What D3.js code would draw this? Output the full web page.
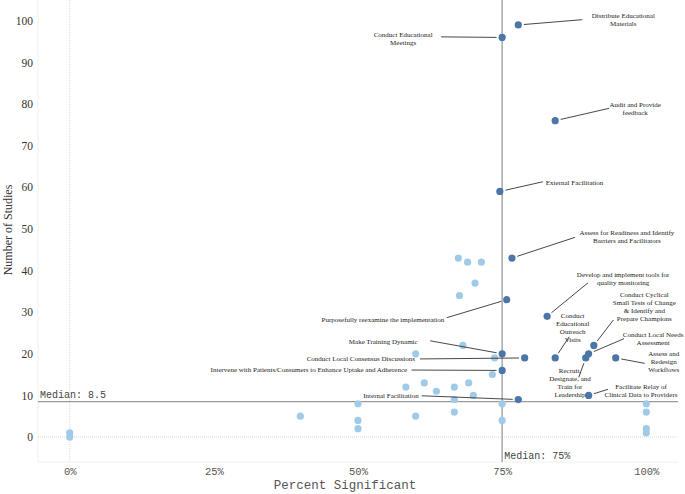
<!DOCTYPE html>
<html>
<head>
<meta charset="utf-8">
<script src="https://cdn.jsdelivr.net/npm/d3@7"></script>
<style>
  body { margin: 0; background: #fff; }
  .lbl { font-family: "Liberation Serif", "Times New Roman", serif; font-size: 7px; fill: #222; }
  .mono { font-family: "Liberation Mono", "Courier New", monospace; }
</style>
</head>
<body>
<svg id="chart" width="685" height="494"></svg>
<script>
// highlighted strategies (dark points)
var stratNames = [
  'Distribute Educational Materials',
  'Conduct Educational Meetings',
  'Audit and Provide feedback',
  'External Facilitation',
  'Assess for Readiness and Identify Barriers and Facilitators',
  'Purposefully reexamine the implementation',
  'Make Training Dynamic',
  'Conduct Local Consensus Discussions',
  'Intervene with Patients/Consumers to Enhance Uptake and Adherence',
  'Internal Facilitation',
  'Develop and implement tools for quality monitoring',
  'Conduct Educational Outreach Visits',
  'Recruit, Designate, and Train for Leadership',
  'Conduct Local Needs Assessment',
  'Conduct Cyclical Small Tests of Change & Identify and Prepare Champions',
  'Assess and Redesign Workflows',
  'Facilitate Relay of Clinical Data to Providers'
];
var stratPct   = [77.8, 75.0, 84.2, 74.6, 76.7, 75.8, 75.0, 78.9, 75.0, 77.8, 82.8, 84.2, 89.5, 90.0, 90.9, 94.7, 90.0];
var stratCount = [99, 96, 76, 59, 43, 33, 20, 19, 16, 9, 29, 19, 19, 20, 22, 19, 10];

// remaining strategies (light points)
var otherPct   = [67.4, 69.0, 71.4, 70.3, 67.6, 68.2, 60.0, 73.7, 73.3, 58.3, 61.5, 63.6, 66.7, 69.2, 70.0, 66.7,
                  75.0, 50.0, 40.0, 50.0, 50.0, 60.0, 66.7, 75.0, 100, 100, 100, 100, 0, 0];
var otherCount = [43, 42, 42, 37, 34, 22, 20, 19, 15, 12, 13, 11, 12, 13, 10, 9,
                  8, 8, 5, 4, 2, 5, 6, 4, 8, 6, 2, 1, 1, 0];

var yTicks = [0, 10, 20, 30, 40, 50, 60, 70, 80, 90, 100];
var xTicks = [0, 25, 50, 75, 100];
var medianCount = 8.5;
var medianPct = 75;

// label layout: text lines, offset of first line from the dot, anchor, leader end offset
var labelLayout = [
  { lines: ['Distribute Educational', 'Materials'], dx: 105, dy: -9.3, anchor: 'middle', lx: 64, ly: -5.3 },
  { lines: ['Conduct Educational', 'Meetings'], dx: -99, dy: -3.3, anchor: 'middle', lx: -61, ly: -0.6 },
  { lines: ['Audit and Provide', 'feedback'], dx: 80, dy: -16, anchor: 'middle', lx: 54, ly: -12.4 },
  { lines: ['External Facilitation'], dx: 46, dy: -9.4, anchor: 'start', lx: 43, ly: -9.7 },
  { lines: ['Assess for Readiness and Identify', 'Barriers and Facilitators'], dx: 115, dy: -25.7, anchor: 'middle', lx: 63, ly: -20.7 },
  { lines: ['Purposefully reexamine the implementation'], dx: -62.5, dy: 19.6, anchor: 'end', lx: -60, ly: 18 },
  { lines: ['Make Training Dynamic'], dx: -84.5, dy: -12, anchor: 'end', lx: -72, ly: -13 },
  { lines: ['Conduct Local Consensus Discussions'], dx: -109.6, dy: 0.4, anchor: 'end', lx: -104.6, ly: 1 },
  { lines: ['Intervene with Patients/Consumers to Enhance Uptake and Adherence'], dx: -95, dy: -0.7, anchor: 'end', lx: -90.5, ly: -0.4 },
  { lines: ['Internal Facilitation'], dx: -99.6, dy: -4.2, anchor: 'end', lx: -96.6, ly: -3.8 },
  { lines: ['Develop and implement tools for', 'quality monitoring'], dx: 76, dy: -42, anchor: 'middle', lx: 41, ly: -33.6 },
  { lines: ['Conduct', 'Educational', 'Outreach', 'Visits'], dx: 17.5, dy: -41.9, anchor: 'middle', lx: 14, ly: -21.2 },
  { lines: ['Recruit,', 'Designate, and', 'Train for', 'Leadership'], dx: -15.8, dy: 12.4, anchor: 'middle', lx: -7, ly: 19.4 },
  { lines: ['Conduct Local Needs', 'Assessment'], dx: 64.5, dy: -18.8, anchor: 'middle', lx: 35.4, ly: -15.1 },
  { lines: ['Conduct Cyclical', 'Small Tests of Change', '& Identify and', 'Prepare Champions'], dx: 50.5, dy: -51.1, anchor: 'middle', lx: 19.5, ly: -25.4 },
  { lines: ['Assess and', 'Redesign', 'Workflows'], dx: 48, dy: -4.2, anchor: 'middle', lx: 29, ly: 5.4 },
  { lines: ['Facilitate Relay of', 'Clinical Data to Providers'], dx: 52.4, dy: -9.1, anchor: 'middle', lx: 19.4, ly: -6.1 }
];

var lightBlue = '#a0cbe8';
var darkBlue  = '#4a76a8';
var r = 3.6;

var svg = d3.select('#chart');
var x = d3.scaleLinear().domain([-5.5, 105.5]).range([38, 678]);
var y = d3.scaleLinear().domain([-6, 105]).range([462, 0]);

// plot frame (faint)
svg.append('line').attr('x1', 38).attr('x2', 38).attr('y1', 0).attr('y2', 462)
   .attr('stroke', '#f0f0f0');
svg.append('line').attr('x1', 38).attr('x2', 678).attr('y1', 462).attr('y2', 462)
   .attr('stroke', '#f0f0f0');

// zero lines
svg.append('line').attr('x1', x(0)).attr('x2', x(0)).attr('y1', 0).attr('y2', 462)
   .attr('stroke', '#d8d8d8').attr('stroke-dasharray', '1,1');
svg.append('line').attr('x1', 38).attr('x2', 678).attr('y1', y(0)).attr('y2', y(0))
   .attr('stroke', '#d8d8d8').attr('stroke-dasharray', '1,1');

// axes (labels only)
var yAxis = d3.axisLeft(y).tickValues(yTicks).tickSize(0).tickPadding(5);
svg.append('g').attr('transform', 'translate(38,0)').call(yAxis)
  .call(g => g.select('.domain').remove())
  .selectAll('text')
    .attr('font-family', '"Liberation Serif", "Times New Roman", serif')
    .attr('font-size', 11.5).attr('fill', '#333');

var xAxis = d3.axisBottom(x).tickValues(xTicks).tickSize(0).tickPadding(6).tickFormat(d => d + '%');
svg.append('g').attr('transform', 'translate(0,462)').call(xAxis)
  .call(g => g.select('.domain').remove())
  .selectAll('text')
    .attr('class', 'mono')
    .attr('font-size', 10.5).attr('fill', '#555');

// axis titles
svg.append('text')
  .attr('transform', 'translate(12,230) rotate(-90)')
  .attr('text-anchor', 'middle')
  .attr('font-family', '"Liberation Serif", "Times New Roman", serif')
  .attr('font-size', 12).attr('fill', '#333')
  .text('Number of Studies');

svg.append('text')
  .attr('class', 'mono')
  .attr('x', 345).attr('y', 489)
  .attr('text-anchor', 'middle')
  .attr('font-size', 12.5).attr('fill', '#555')
  .text('Percent Significant');

// median reference lines
svg.append('line').attr('x1', 38).attr('x2', 678).attr('y1', y(medianCount)).attr('y2', y(medianCount))
   .attr('stroke', '#9a9a9a').attr('stroke-width', 1.3);
svg.append('line').attr('x1', x(medianPct)).attr('x2', x(medianPct)).attr('y1', 0).attr('y2', 462)
   .attr('stroke', '#9a9a9a').attr('stroke-width', 1.3);

svg.append('text').attr('class', 'mono')
  .attr('x', 40).attr('y', y(medianCount) - 4)
  .attr('font-size', 10).attr('fill', '#444')
  .text('Median: ' + medianCount);
svg.append('text').attr('class', 'mono')
  .attr('x', x(medianPct) + 2).attr('y', 459)
  .attr('font-size', 10).attr('fill', '#444')
  .text('Median: ' + medianPct + '%');

// light points
svg.append('g').selectAll('circle')
  .data(otherPct.map((p, i) => ({ p: p, n: otherCount[i] })))
  .enter().append('circle')
    .attr('cx', d => x(d.p))
    .attr('cy', d => y(d.n))
    .attr('r', r)
    .attr('fill', lightBlue);

// highlighted points + labels
var strat = stratNames.map((s, i) => ({ name: s, p: stratPct[i], n: stratCount[i], lay: labelLayout[i] }));

var leaders = svg.append('g');
strat.forEach(d => {
  var cx = x(d.p), cy = y(d.n);
  var ex = cx + d.lay.lx, ey = cy + d.lay.ly;
  var len = Math.hypot(ex - cx, ey - cy);
  var gap = r + 2;
  leaders.append('line')
    .attr('x1', cx + (ex - cx) * gap / len)
    .attr('y1', cy + (ey - cy) * gap / len)
    .attr('x2', ex).attr('y2', ey)
    .attr('stroke', '#333').attr('stroke-width', 0.9);
});

svg.append('g').selectAll('circle')
  .data(strat)
  .enter().append('circle')
    .attr('cx', d => x(d.p))
    .attr('cy', d => y(d.n))
    .attr('r', r)
    .attr('fill', darkBlue);

var labels = svg.append('g');
strat.forEach(d => {
  var t = labels.append('text')
    .attr('class', 'lbl')
    .attr('text-anchor', d.lay.anchor);
  d.lay.lines.forEach((ln, j) => {
    t.append('tspan')
      .attr('x', x(d.p) + d.lay.dx)
      .attr('y', y(d.n) + d.lay.dy + j * 8)
      .attr('dy', '0.35em')
      .text(ln);
  });
});
</script>
</body>
</html>
